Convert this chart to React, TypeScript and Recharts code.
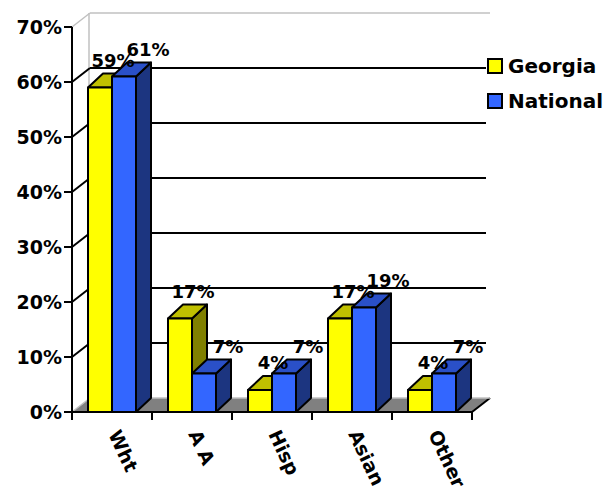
import { BarChart, Bar, XAxis, YAxis, CartesianGrid, LabelList, Legend } from "recharts";

const categories = ["Wht", "A A", "Hisp", "Asian", "Other"];
const georgia = [59, 17, 4, 17, 4];
const national = [61, 7, 7, 19, 7];
const yTicks = [0, 10, 20, 30, 40, 50, 60, 70];

const data = categories.map((name, i) => ({ name, georgia: georgia[i], national: national[i] }));

const FONT = "'DejaVu Sans', sans-serif";
// depth of the 3d look
const DX = 15;
const DY = 14;
const WALL_DX = 18;

const palette = {
  georgia: { front: "#FFFF00", top: "#C0C000", side: "#808000" },
  national: { front: "#3366FF", top: "#2A50C8", side: "#1C3580" },
};

const makeShape = (c: { front: string; top: string; side: string }) => (props: any) => {
  const { x, y, width, height } = props;
  if (height == null || width == null) return <g />;
  const sw = { stroke: "#000", strokeWidth: 2, strokeLinejoin: "round" as const };
  return (
    <g>
      <polygon
        points={`${x + width},${y} ${x + width + DX},${y - DY} ${x + width + DX},${y + height - DY} ${x + width},${y + height}`}
        fill={c.side}
        {...sw}
      />
      <polygon
        points={`${x},${y} ${x + DX},${y - DY} ${x + width + DX},${y - DY} ${x + width},${y}`}
        fill={c.top}
        {...sw}
      />
      <rect x={x} y={y} width={width} height={height} fill={c.front} {...sw} />
    </g>
  );
};

const makeLabel = (shift: number) => (props: any) => {
  const { x, y, width, value } = props;
  return (
    <text
      x={x + width / 2 + DX + shift}
      y={y - 21}
      textAnchor="middle"
      fontFamily={FONT}
      fontWeight="bold"
      fontSize={18}
      fill="#000"
    >
      {value}%
    </text>
  );
};

// back wall lines, left wall diagonals and floor
const renderGridLine = (props: any) => {
  const { x1, y1, x2, index } = props;
  const bottom = props.y + props.height;
  const top = props.y;
  const isBottom = Math.abs(y1 - bottom) < 0.5;
  const isTop = Math.abs(y1 - top) < 0.5;
  const col = isBottom || isTop ? "#C0C0C0" : "#000";
  return (
    <g key={`g-${index}`}>
      {isBottom && (
        <g>
          <polygon
            points={`${x1},${y1} ${x1 + WALL_DX},${y1 - DY} ${x2 + WALL_DX},${y1 - DY} ${x2},${y1}`}
            fill="#808080"
            stroke="none"
          />
          <line x1={x2} y1={y1} x2={x2 + WALL_DX} y2={y1 - DY} stroke="#000" strokeWidth={2} />
          <line x1={x1 + WALL_DX - 1} y1={top - DY} x2={x1 + WALL_DX - 1} y2={y1 - DY} stroke="#C0C0C0" strokeWidth={1.5} />
        </g>
      )}
      <line
        x1={x1 + WALL_DX}
        y1={y1 - DY}
        x2={x2 + (isTop || isBottom ? WALL_DX : WALL_DX - 4)}
        y2={y1 - DY}
        stroke={col}
        strokeWidth={isTop || isBottom ? 1.5 : 2}
      />
      <line x1={x1} y1={y1} x2={x1 + WALL_DX} y2={y1 - DY} stroke={col} strokeWidth={isTop || isBottom ? 1.5 : 2} />
    </g>
  );
};

const YTick = (props: any) => {
  const { x, y, payload } = props;
  return (
    <g>
      <line x1={x - 8} y1={y} x2={x} y2={y} stroke="#000" strokeWidth={2} />
      <text x={x - 10} y={y + 7} textAnchor="end" fontFamily={FONT} fontWeight="bold" fontSize={19} fill="#000">
        {payload.value}%
      </text>
    </g>
  );
};

const XTick = (props: any) => {
  const { x, y, payload, index, visibleTicksCount } = props;
  const half = 40;
  const tx = x - 4;
  const ty = y + 22;
  return (
    <g>
      <line x1={x - half} y1={y} x2={x - half} y2={y + 8} stroke="#000" strokeWidth={2} />
      {index === visibleTicksCount - 1 && (
        <line x1={x + half} y1={y} x2={x + half} y2={y + 8} stroke="#000" strokeWidth={2} />
      )}
      <text
        x={tx}
        y={ty}
        transform={`rotate(65, ${tx}, ${ty})`}
        textAnchor="start"
        fontFamily={FONT}
        fontWeight="bold"
        fontSize={19}
        fill="#000"
      >
        {payload.value}
      </text>
    </g>
  );
};

const renderLegend = () => {
  const items = [
    { name: "Georgia", color: palette.georgia.front },
    { name: "National", color: palette.national.front },
  ];
  return (
    <div style={{ fontFamily: FONT, fontWeight: "bold", fontSize: 20, color: "#000" }}>
      {items.map((it) => (
        <div key={it.name} style={{ display: "flex", alignItems: "center", height: 35 }}>
          <span
            style={{
              display: "inline-block",
              width: 12,
              height: 12,
              border: "2px solid #000",
              background: it.color,
              marginRight: 5,
            }}
          />
          <span>{it.name}</span>
        </div>
      ))}
    </div>
  );
};

export default function App() {
  return (
    <div style={{ position: "absolute", left: 0, top: 0, width: 605, height: 487, background: "#fff" }}>
      <BarChart
        width={605}
        height={487}
        data={data}
        margin={{ top: 27, right: 133, bottom: 5, left: 12 }}
        barCategoryGap={16}
        barGap={0}
      >
        <CartesianGrid horizontal={renderGridLine} vertical={false} />
        <XAxis
          dataKey="name"
          height={70}
          axisLine={{ stroke: "#000", strokeWidth: 2 }}
          tickLine={false}
          tickSize={0}
          tickMargin={0}
          tick={<XTick />}
          interval={0}
        />
        <YAxis
          width={60}
          domain={[0, 70]}
          ticks={yTicks}
          interval={0}
          axisLine={{ stroke: "#000", strokeWidth: 2 }}
          tickLine={false}
          tickSize={0}
          tickMargin={0}
          tick={<YTick />}
        />
        <Legend
          verticalAlign="top"
          align="left"
          layout="horizontal"
          content={renderLegend}
          wrapperStyle={{ left: 487, top: 48, width: 118, height: 0, overflow: "visible" }}
        />
        <Bar dataKey="georgia" name="Georgia" isAnimationActive={false} shape={makeShape(palette.georgia)}>
          <LabelList dataKey="georgia" content={makeLabel(-2)} />
        </Bar>
        <Bar dataKey="national" name="National" isAnimationActive={false} shape={makeShape(palette.national)}>
          <LabelList dataKey="national" content={makeLabel(9)} />
        </Bar>
      </BarChart>
    </div>
  );
}
